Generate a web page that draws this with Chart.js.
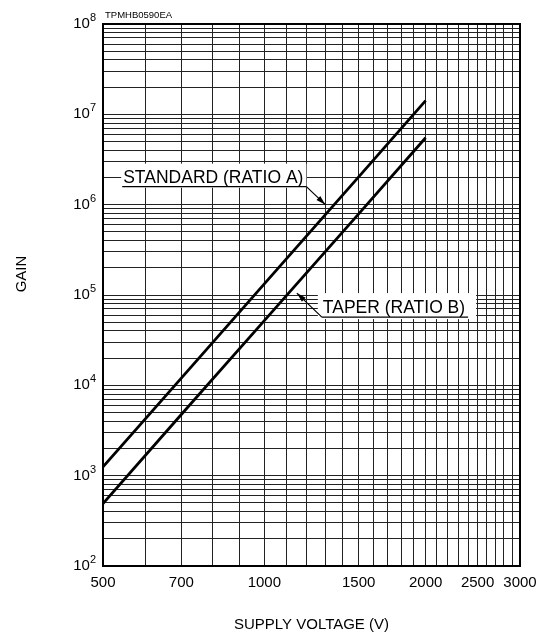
<!DOCTYPE html>
<html>
<head>
<meta charset="utf-8">
<script src="https://cdn.jsdelivr.net/npm/chart.js@4/dist/chart.umd.min.js"></script>
<style>
  html, body { margin: 0; padding: 0; background: #fff; }
  #wrap { width: 555px; height: 637px; }
</style>
</head>
<body>
<div id="wrap"><canvas id="gainChart"></canvas></div>
<script>
// data
var voltage = [500, 700, 1000, 1500, 2000];
var gainStandard = [1250, 12000, 133000, 2030000, 14200000];
var gainTaper = [490, 4750, 52000, 790000, 5500000];

var xTickLabels = [500, 700, 1000, 1500, 2000, 2500, 3000];
var yExponents = [2, 3, 4, 5, 6, 7, 8];

// callouts: text, where the arrow points (data units)
var callouts = [
  { text: 'STANDARD (RATIO A)', x: 1300, y: 1000000, dx: -19, dy: -18, side: 'left' },
  { text: 'TAPER (RATIO B)', x: 1150, y: 105000, dx: 25, dy: 24, side: 'right' }
];

var FONT = '"Liberation Sans", Arial, Helvetica, sans-serif';

function toPoints(xs, ys) {
  return xs.map(function (v, i) { return { x: v, y: ys[i] }; });
}

// grid every 100 V, every 1..9 per decade
var xGrid = [];
for (var v = 500; v <= 3000; v += 100) xGrid.push(v);
var yGrid = [];
for (var e = 2; e < 8; e++) {
  for (var m = 1; m < 10; m++) yGrid.push(m * Math.pow(10, e));
}
yGrid.push(1e8);

var sheetPlugin = {
  id: 'sheet',
  // callouts go above the grid but under the curves
  beforeDatasetsDraw: function (chart) {
    var ctx = chart.ctx;
    var xs = chart.scales.x, ys = chart.scales.y;
    ctx.save();
    ctx.font = '17.5px ' + FONT;
    callouts.forEach(function (c) {
      var tx = xs.getPixelForValue(c.x), ty = ys.getPixelForValue(c.y);
      var bx = tx + c.dx, by = ty + c.dy;
      var w = ctx.measureText(c.text).width;
      var x0 = c.side === 'left' ? bx - w - 4 : bx;
      var x1 = c.side === 'left' ? bx : bx + w + 4;
      ctx.fillStyle = '#fff';
      if (c.side === 'left') ctx.fillRect(x0 - 1, by - 23, x1 - x0 + 1, 24);
      else ctx.fillRect(x0 - 4, by - 24, x1 - x0 + 12, 26);
      ctx.fillStyle = '#000';
      ctx.textAlign = 'left';
      ctx.textBaseline = 'alphabetic';
      ctx.fillText(c.text, x0 + 1, by - 4);
      ctx.strokeStyle = '#000';
      ctx.lineWidth = 1.2;
      ctx.beginPath();
      ctx.moveTo(x0, by);
      ctx.lineTo(x1, by);
      ctx.moveTo(bx, by);
      ctx.lineTo(tx, ty);
      ctx.stroke();
      var ang = Math.atan2(ty - by, tx - bx);
      ctx.beginPath();
      ctx.moveTo(tx, ty);
      ctx.lineTo(tx - 10 * Math.cos(ang - 0.28), ty - 10 * Math.sin(ang - 0.28));
      ctx.lineTo(tx - 10 * Math.cos(ang + 0.28), ty - 10 * Math.sin(ang + 0.28));
      ctx.closePath();
      ctx.fill();
    });
    ctx.restore();
  },
  afterDraw: function (chart) {
    var ctx = chart.ctx;
    var a = chart.chartArea;
    var xs = chart.scales.x, ys = chart.scales.y;
    ctx.save();

    // frame
    ctx.strokeStyle = '#000';
    ctx.lineWidth = 2;
    ctx.strokeRect(a.left, a.top, a.right - a.left, a.bottom - a.top);

    // y labels 10^n
    ctx.fillStyle = '#000';
    ctx.textBaseline = 'middle';
    yExponents.forEach(function (n) {
      var py = ys.getPixelForValue(Math.pow(10, n));
      ctx.font = '11px ' + FONT;
      var supW = ctx.measureText(String(n)).width;
      ctx.textAlign = 'right';
      ctx.fillText(String(n), a.left - 7, py - 6);
      ctx.font = '15px ' + FONT;
      ctx.fillText('10', a.left - 7 - supW, py);
    });

    // x labels
    ctx.font = '15px ' + FONT;
    ctx.textAlign = 'center';
    ctx.textBaseline = 'top';
    xTickLabels.forEach(function (t) {
      ctx.fillText(String(t), xs.getPixelForValue(t), a.bottom + 9);
    });

    // axis titles
    ctx.fillText('SUPPLY VOLTAGE (V)', (a.left + a.right) / 2, 617);
    ctx.save();
    ctx.translate(22, 274);
    ctx.rotate(-Math.PI / 2);
    ctx.textBaseline = 'middle';
    ctx.fillText('GAIN', 0, 0);
    ctx.restore();

    // drawing code
    ctx.font = '9.5px ' + FONT;
    ctx.textAlign = 'left';
    ctx.textBaseline = 'alphabetic';
    ctx.fillText('TPMHB0590EA', a.left + 2, a.top - 6);

    ctx.restore();
  }
};

new Chart(document.getElementById('gainChart'), {
  type: 'line',
  data: {
    datasets: [
      { label: 'STANDARD (RATIO A)', data: toPoints(voltage, gainStandard) },
      { label: 'TAPER (RATIO B)', data: toPoints(voltage, gainTaper) }
    ]
  },
  options: {
    responsive: true,
    maintainAspectRatio: false,
    animation: false,
    devicePixelRatio: 1,
    layout: { padding: { left: 0, right: 35, top: 24, bottom: 0 } },
    elements: {
      line: { borderColor: '#000', borderWidth: 2.8, tension: 0, fill: false },
      point: { radius: 0, hoverRadius: 0 }
    },
    plugins: {
      legend: { display: false },
      tooltip: { enabled: false }
    },
    scales: {
      x: {
        type: 'logarithmic',
        min: 500,
        max: 3000,
        afterBuildTicks: function (s) { s.ticks = xGrid.map(function (v) { return { value: v }; }); },
        afterFit: function (s) { s.height = 71; },
        ticks: { display: false, autoSkip: false },
        grid: { color: '#222', lineWidth: 1, drawTicks: false },
        border: { display: false }
      },
      y: {
        type: 'logarithmic',
        min: 100,
        max: 1e8,
        afterBuildTicks: function (s) { s.ticks = yGrid.map(function (v) { return { value: v }; }); },
        afterFit: function (s) { s.width = 103; },
        ticks: { display: false, autoSkip: false },
        grid: { color: '#222', lineWidth: 1, drawTicks: false },
        border: { display: false }
      }
    }
  },
  plugins: [sheetPlugin]
});
</script>
</body>
</html>
